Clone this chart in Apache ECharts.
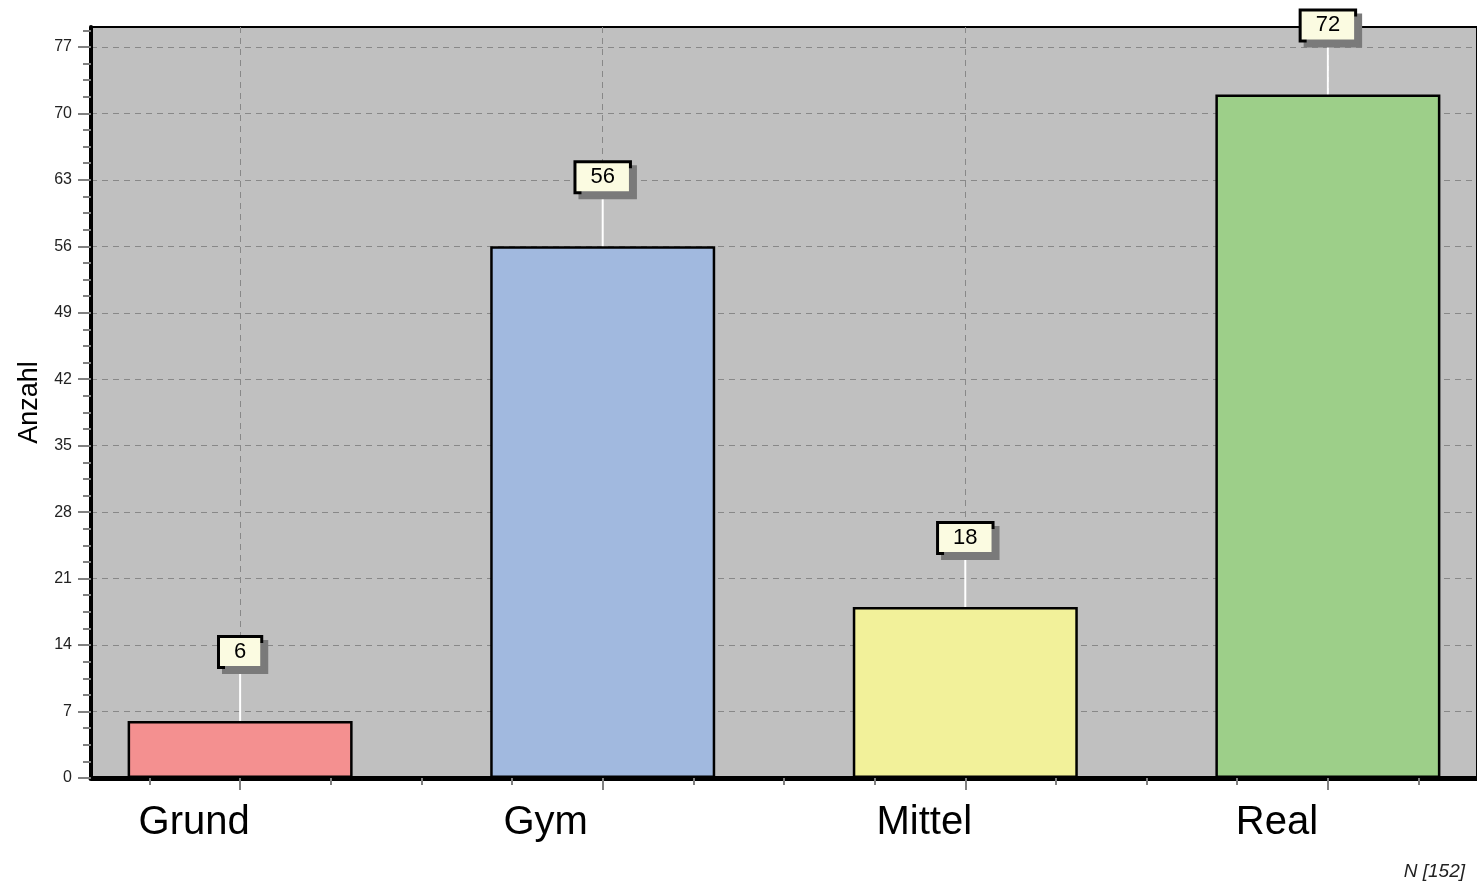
<!DOCTYPE html>
<html>
<head>
<meta charset="utf-8">
<title>Anzahl</title>
<script src="https://cdn.jsdelivr.net/npm/echarts@6/dist/echarts.min.js"></script>
<style>
  html, body { margin: 0; padding: 0; background: #fff; }
  #chart { width: 1477px; height: 887px; }
</style>
</head>
<body>
<div id="chart"></div>
<script>
// 数据
const categories = ['Grund', 'Gym', 'Mittel', 'Real']
const counts = [6, 56, 18, 72]
const yTicks = [0, 7, 14, 21, 28, 35, 42, 49, 56, 63, 70, 77]
const totalLabel = 'N [152]'

const barColors = ['#f49090', '#a1b9df', '#f2f19a', '#9dcf89']
// 标签向左的偏移 (px)
const labelShift = [46, 57, 41, 51]
// 每个类别在 x 轴上占 4 个刻度
const slot = 4

const chart = echarts.init(document.getElementById('chart'))

const xMajor = categories.map((c, i) => i * slot)
const xMinor = []
for (let v = -1; v <= (categories.length - 1) * slot + 1; v++) {
  xMinor.push(v)
}
const yMinor = []
for (let v = 0; v <= 78.75; v += 1.75) {
  yMinor.push(Math.round(v * 100) / 100)
}

const rich = {}
labelShift.forEach((s, i) => {
  rich['c' + i] = { fontSize: 40, color: '#000', padding: [0, s * 2, 0, 0] }
})

const xMin = -1.645
const xMax = 13.645
const yMax = 79.1

const option = {
  animation: false,
  textStyle: { fontFamily: 'Liberation Sans, Arial, sans-serif' },
  grid: {
    left: 91,
    right: -3,
    top: 27,
    bottom: 109,
    show: true,
    backgroundColor: '#c0c0c0',
    borderColor: '#000',
    borderWidth: 2
  },
  xAxis: [
    {
      type: 'value',
      min: xMin,
      max: xMax,
      axisLine: { show: true, onZero: false, lineStyle: { color: '#000', width: 5 } },
      axisTick: { show: true, customValues: xMinor, length: 7, lineStyle: { color: '#808080', width: 2 } },
      axisLabel: { show: false },
      splitLine: { show: false }
    },
    {
      type: 'value',
      position: 'bottom',
      min: xMin,
      max: xMax,
      axisLine: { show: false, onZero: false },
      axisTick: { show: true, customValues: xMajor, length: 12, lineStyle: { color: '#808080', width: 2 } },
      axisLabel: {
        show: true,
        customValues: xMajor,
        margin: 25,
        fontSize: 40,
        color: '#000',
        formatter: v => {
          const i = Math.round(v / slot)
          return '{c' + i + '|' + categories[i] + '}'
        },
        rich: rich
      },
      splitLine: { show: true, lineStyle: { color: '#888', type: [6, 5], width: 1 } }
    }
  ],
  yAxis: [
    {
      type: 'value',
      min: 0,
      max: yMax,
      name: 'Anzahl',
      nameLocation: 'middle',
      nameGap: 48,
      nameTextStyle: { fontSize: 27, color: '#000' },
      axisLine: { show: true, onZero: false, lineStyle: { color: '#000', width: 4 } },
      axisTick: { show: true, customValues: yTicks, length: 13, lineStyle: { color: '#808080', width: 2 } },
      axisLabel: { customValues: yTicks, fontSize: 16, color: '#222', margin: 19 },
      splitLine: { show: true, lineStyle: { color: '#888', type: [6, 5], width: 1 } }
    },
    {
      type: 'value',
      min: 0,
      max: yMax,
      position: 'left',
      axisLine: { show: false, onZero: false },
      axisTick: { show: true, customValues: yMinor, length: 8, lineStyle: { color: '#808080', width: 2 } },
      axisLabel: { show: false },
      splitLine: { show: false }
    }
  ],
  graphic: [
    {
      type: 'text',
      right: 12,
      bottom: 6,
      style: {
        text: totalLabel,
        font: 'italic 19px Liberation Sans, Arial, sans-serif',
        fill: '#222'
      }
    }
  ],
  series: [
    {
      type: 'bar',
      xAxisIndex: 0,
      yAxisIndex: 0,
      barWidth: 225,
      data: counts.map((v, i) => ({
        value: [i * slot, v],
        itemStyle: { color: barColors[i] }
      })),
      itemStyle: { borderColor: '#000', borderWidth: 2.5 },
      label: {
        show: true,
        position: 'top',
        distance: 0,
        formatter: p => p.value[1],
        fontSize: 22,
        color: '#000',
        backgroundColor: '#fbfbe1',
        borderColor: '#000',
        borderWidth: 3,
        padding: [3, 14, 3, 14],
        shadowColor: '#7a7a7a',
        shadowBlur: 0,
        shadowOffsetX: 5,
        shadowOffsetY: 5
      },
      labelLayout: { dy: -55 },
      labelLine: { show: true, lineStyle: { color: '#fff', width: 2 } }
    }
  ]
}

chart.setOption(option)
</script>
</body>
</html>
